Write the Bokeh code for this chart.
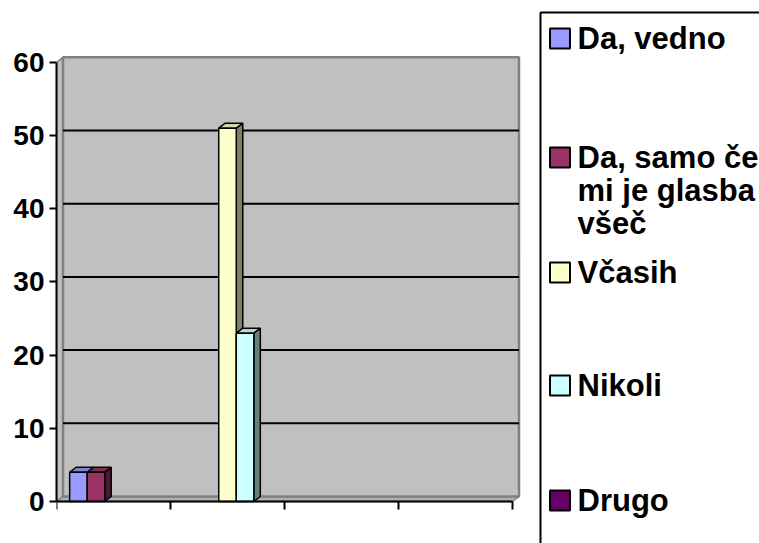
import textwrap
from bokeh.plotting import figure
from bokeh.models import Range1d, FixedTicker
from bokeh.layouts import row
from bokeh.embed import file_html
from bokeh.resources import INLINE
from bokeh.core.properties import value

# ---------------- data ----------------
series = ["Da, vedno", "Da, samo če mi je glasba všeč", "Včasih", "Nikoli", "Drugo"]
colors = ["#9999FF", "#993366", "#FFFFCC", "#CCFFFF", "#660066"]
categories = ["", "", "", ""]
da_vedno = [4, 0, 0, 0]
da_samo = [4, 0, 0, 0]
vcasih = [0, 51, 0, 0]
nikoli = [0, 23, 0, 0]
drugo = [0, 0, 0, 0]
y_ticks = [0, 10, 20, 30, 40, 50, 60]

values = [da_vedno, da_samo, vcasih, nikoli, drugo]
n_cat = len(categories)
n_ser = len(series)

# ---------------- style / geometry ----------------
W, H = 759, 543
CHART_W = 532
LEFT = 56             # frame left (y axis line)
ZERO_Y = 501          # pixel row of value 0
PX_X = 114.0          # pixels per category
PX_Y = 7.32           # pixels per y unit
DX = 6.5 / PX_X       # 3D depth in x (data units)
DY = 5.0 / PX_Y       # 3D depth in y (data units)
GAP = 1.5             # gap width relative to bar width
slot = n_ser + GAP
bw = 1.0 / slot
FONT = "Liberation Sans"


def shade(hexcol, f):
    h = hexcol.lstrip("#")
    r, g, b = (int(h[i:i + 2], 16) for i in (0, 2, 4))
    return "#%02x%02x%02x" % (int(r * f), int(g * f), int(b * f))


p = figure(width=CHART_W, height=H,
           x_range=Range1d(0, (CHART_W - LEFT) / PX_X),
           y_range=Range1d(-(H - ZERO_Y) / PX_Y, ZERO_Y / PX_Y),
           output_backend="svg", toolbar_location=None,
           x_axis_location=None, y_axis_location="left",
           min_border_left=LEFT, min_border_right=0, min_border_top=0, min_border_bottom=0)
p.grid.visible = False
p.outline_line_color = None
p.background_fill_color = "white"

ymax = y_ticks[-1]
# left side wall
p.patch([0, 0, DX, DX], [0, ymax, ymax + DY, DY],
        fill_color="#C0C0C0", line_color="#808080", line_width=1.5)
# floor
p.patch([0, n_cat, n_cat + DX, DX], [0, 0, DY, DY],
        fill_color="#B0B0B0", line_color="#808080", line_width=1.5)
# back wall
p.quad(left=DX, right=n_cat + DX, bottom=DY, top=ymax + DY,
       fill_color="#C0C0C0", line_color="#808080", line_width=2.5)
# gridlines on back wall
grid_vals = [t for t in y_ticks if 0 < t < ymax]
p.segment(x0=[DX] * len(grid_vals), y0=[t + DY for t in grid_vals],
          x1=[n_cat + DX] * len(grid_vals), y1=[t + DY for t in grid_vals],
          line_color="black", line_width=2)

# 3D bars
for i in range(n_cat):
    for j in range(n_ser):
        v = values[j][i]
        if v <= 0:
            continue
        l = i + (GAP / 2 + j) * bw
        r = l + bw
        col = colors[j]
        p.patch([r, r, r + DX, r + DX], [0, v, v + DY, DY],
                fill_color=shade(col, 0.5), line_color="black", line_width=1.5)
        p.patch([l, r, r + DX, l + DX], [v, v, v + DY, v + DY],
                fill_color=shade(col, 0.85), line_color="black", line_width=1.5)
        p.quad(left=l, right=r, bottom=0, top=v,
               fill_color=col, line_color="black", line_width=1.5)

# category axis (no labels): base line + boundary ticks
bounds_x = list(range(n_cat + 1))
p.segment(x0=[0], y0=[0], x1=[n_cat], y1=[0], line_color="black", line_width=2)
p.segment(x0=bounds_x, y0=[0] * len(bounds_x), x1=bounds_x,
          y1=[-8 / PX_Y] * len(bounds_x), line_color="black", line_width=2)

# value axis
p.yaxis.ticker = FixedTicker(ticks=y_ticks)
p.yaxis.bounds = (0, ymax)
p.yaxis.axis_line_color = "black"
p.yaxis.axis_line_width = 2
p.yaxis.major_tick_line_color = "black"
p.yaxis.major_tick_line_width = 2
p.yaxis.major_tick_in = 0
p.yaxis.major_tick_out = 7
p.yaxis.minor_tick_line_color = None
p.yaxis.major_label_text_font = FONT
p.yaxis.major_label_text_font_style = "bold"
p.yaxis.major_label_text_font_size = "28px"
p.yaxis.major_label_text_color = "black"
p.yaxis.major_label_standoff = 5

# ---------------- legend panel ----------------
LW = W - CHART_W
q = figure(width=LW, height=H, x_range=Range1d(0, LW), y_range=Range1d(H, 0),
           output_backend="svg", toolbar_location=None, min_border=0,
           x_axis_location=None, y_axis_location=None)
q.grid.visible = False
q.outline_line_color = None
q.quad(left=8, right=LW + 50, top=12, bottom=H + 50,
       fill_color=None, line_color="black", line_width=2)
centers = [38, 157, 272, 385, 500]
q.rect(x=[27.5] * n_ser, y=centers, width=20, height=20,
       fill_color=colors, line_color="black", line_width=2)
tx, ty, tt = [], [], []
for name, c in zip(series, centers):
    for k, line in enumerate(textwrap.wrap(name, 12)):
        tx.append(45)
        ty.append(c + 33 * k)
        tt.append(line)
q.text(x=tx, y=ty, text=tt, text_font=value(FONT), text_font_style="bold",
       text_font_size="31px", text_baseline="middle", text_color="black")

layout = row(p, q)
open("out.html", "w").write(file_html(layout, INLINE))
